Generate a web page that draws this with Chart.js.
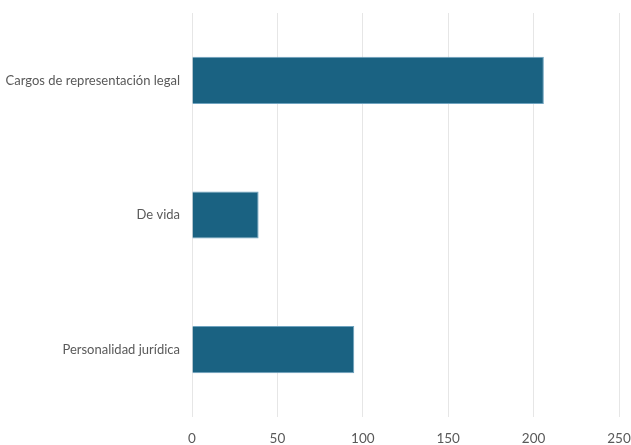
<!DOCTYPE html>
<html>
<head>
<meta charset="utf-8">
<script src="https://cdn.jsdelivr.net/npm/chart.js@4"></script>
<style>
  html, body { margin: 0; padding: 0; background: #fff; }
  #wrap { width: 631px; height: 445px; }
</style>
</head>
<body>
<div id="wrap"><canvas id="barChart" width="631" height="445"></canvas></div>
<script>
const categories = ['Cargos de representación legal', 'De vida', 'Personalidad jurídica'];
const values = [206, 39, 95];
const xTicks = [0, 50, 100, 150, 200, 250];

const fontFamily = "Lato, 'Open Sans', sans-serif";
const ctx = document.getElementById('barChart').getContext('2d');

new Chart(ctx, {
    type: 'bar',
    data: {
        labels: categories,
        datasets: [{
            data: values,
            backgroundColor: '#1a6282',
            borderColor: '#6fa3bf',
            borderWidth: 1,
            barPercentage: 0.35,
            categoryPercentage: 1.0
        }]
    },
    options: {
        indexAxis: 'y',
        responsive: false,
        animation: false,
        layout: { padding: { top: 13, right: 12, left: 0, bottom: 0 } },
        plugins: {
            legend: { display: false },
            tooltip: { enabled: false }
        },
        scales: {
            x: {
                min: 0,
                max: 250,
                afterBuildTicks: (scale) => { scale.ticks = xTicks.map(v => ({ value: v })); },
                afterFit: (scale) => {
                    scale.height = 28;
                    scale.paddingLeft = 0;
                    scale.paddingRight = 0;
                },
                border: { display: false },
                grid: { color: '#e6e6e6', drawTicks: false },
                ticks: { color: '#595959', font: { family: fontFamily, size: 13.5 }, padding: 14 }
            },
            y: {
                afterFit: (scale) => {
                    scale.width = 192;
                    scale.paddingTop = 0;
                    scale.paddingBottom = 0;
                },
                border: { display: false },
                grid: { display: false, drawTicks: false },
                ticks: { color: '#595959', font: { family: fontFamily, size: 13 }, padding: 12 }
            }
        }
    }
});
</script>
</body>
</html>
